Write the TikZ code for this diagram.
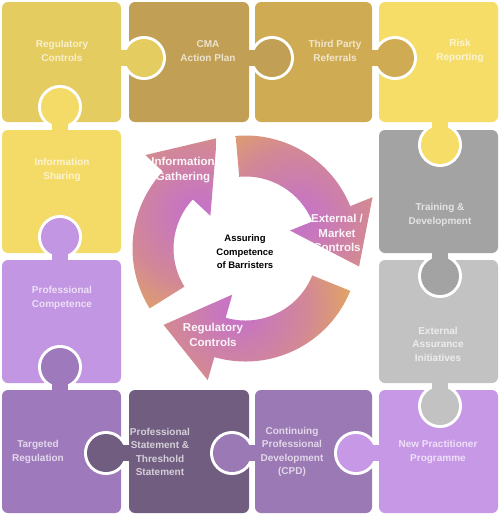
\documentclass[tikz,border=0pt]{standalone}
\usepackage{fontspec}
\setmainfont{Liberation Sans}
\definecolor{cRC}{RGB}{229,204,96}
\definecolor{cCMA}{RGB}{193,160,86}
\definecolor{cTP}{RGB}{207,172,84}
\definecolor{cRR}{RGB}{246,221,104}
\definecolor{cIS}{RGB}{244,218,102}
\definecolor{cTD}{RGB}{163,163,163}
\definecolor{cEA}{RGB}{194,194,194}
\definecolor{cPC}{RGB}{194,150,226}
\definecolor{cTR}{RGB}{158,122,188}
\definecolor{cPS}{RGB}{112,93,128}
\definecolor{cCPD}{RGB}{155,121,180}
\definecolor{cNP}{RGB}{198,152,230}
\definecolor{rpurple}{RGB}{196,112,205}
\definecolor{rpink}{RGB}{210,136,150}
\definecolor{rorange}{RGB}{232,176,78}
\pgfdeclareradialshading{ringshade}{\pgfpoint{0bp}{0bp}}{color(0bp)=(rpurple); color(13bp)=(rpink); color(25bp)=(rorange); color(50bp)=(rorange)}
\newcommand\pztab[4]{%
  \begin{scope}[shift={(#1,#2)}, rotate=#3]
    \draw[white, line width=6pt] (23,0) circle (19) (4,-8) rectangle (23,8);
    \fill[#4] (23,0) circle (19);
    \fill[#4] (-3,-8) rectangle (23,8);
  \end{scope}}
\newcommand\ringarrow[7]{% tail, base, tip angle, tip radius, shade angle, shade dist, shade radius
  \begin{scope}
    \clip (#1:72) -- (#1:113) arc[start angle=#1, end angle=#2, radius=113] -- (#2:137) -- (#3:#4) -- (#2:48) -- (#2:72) arc[start angle=#2, end angle=#1, radius=72] -- cycle;
    \shade[shading=ringshade] (#5:#6) circle (#7);
  \end{scope}}
\begin{document}
\begin{tikzpicture}[x=1pt,y=-1pt,
  piece/.style={rounded corners=6pt},
  plabel/.style={font=\fontsize{10}{13.5}\selectfont\bfseries, text=white, text opacity=0.7, align=center, inner sep=0pt},
  rlabel/.style={font=\fontsize{11.5}{14.5}\selectfont\bfseries, text=white, text opacity=0.92, align=center, inner sep=0pt},
  clabel/.style={font=\fontsize{9.5}{13.5}\selectfont\bfseries, text=black, align=center, inner sep=0pt}]
\useasboundingbox (0,0) rectangle (500,515);
\fill[white] (0,0) rectangle (500,515);
% pieces
\fill[cRC,piece] (2,2) rectangle (121,122);
\fill[cCMA,piece] (129,2) rectangle (249,122);
\fill[cTP,piece] (255,2) rectangle (372,122);
\fill[cRR,piece] (379,2) rectangle (498,122);
\fill[cIS,piece] (2,130) rectangle (121,253);
\fill[cTD,piece] (379,130) rectangle (498,253);
\fill[cPC,piece] (2,260) rectangle (121,383);
\fill[cEA,piece] (379,260) rectangle (498,383);
\fill[cTR,piece] (2,390) rectangle (121,513);
\fill[cPS,piece] (129,390) rectangle (249,513);
\fill[cCPD,piece] (255,390) rectangle (372,513);
\fill[cNP,piece] (379,390) rectangle (498,513);
% tabs
\pztab{121}{58}{0}{cRC}
\pztab{249}{58}{0}{cCMA}
\pztab{372}{58}{0}{cTP}
\pztab{440}{122}{-90}{cRR}
\pztab{440}{253}{-90}{cTD}
\pztab{440}{383}{-90}{cEA}
\pztab{379}{453}{180}{cNP}
\pztab{255}{453}{180}{cCPD}
\pztab{129}{453}{180}{cPS}
\pztab{60}{390}{90}{cTR}
\pztab{60}{260}{90}{cPC}
\pztab{60}{130}{90}{cIS}
% piece labels
\node[plabel] (rc) at (62,51) {Regulatory\\Controls};
\node[plabel] (cma) at (208,51) {CMA\\Action Plan};
\node[plabel] (tp) at (335,51) {Third Party\\Referrals};
\node[plabel] (rr) at (460,51) {Risk\\Reporting};
\node[plabel] (is) at (62,170) {Information\\Sharing};
\node[plabel] (td) at (440,215) {Training \&\\Development};
\node[plabel] (pc) at (62,298) {Professional\\Competence};
\node[plabel] (ea) at (438,344) {External\\Assurance\\Initiatives};
\node[plabel] (tr) at (38,452) {Targeted\\Regulation};
\node[plabel] (ps) at (160,452) {Professional\\Statement \&\\Threshold\\Statement};
\node[plabel] (cpd) at (292,452) {Continuing\\Professional\\Development\\(CPD)};
\node[plabel] (np) at (438,452) {New Practitioner\\Programme};
% ring
\begin{scope}[shift={(245.5,248.5)}, yscale=-1]
  \ringarrow{95}{22}{-9}{115}{30}{60}{135}
  \ringarrow{-22}{-106}{-137}{112}{-98}{60}{135}
  \ringarrow{212}{137}{104.6}{114}{145}{60}{135}
\end{scope}
\node[rlabel] (ig) at (183,170) {Information\\Gathering};
\node[rlabel] (emc) at (337,233) {External /\\Market\\Controls};
\node[rlabel] (rgc) at (213,335) {Regulatory\\Controls};
\node[clabel] (ctr) at (245,252) {Assuring\\Competence\\of Barristers};
\end{tikzpicture}
\end{document}
